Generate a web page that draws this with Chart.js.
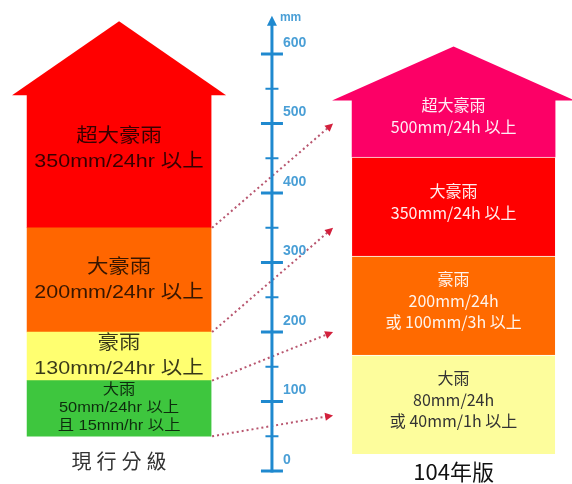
<!DOCTYPE html>
<html>
<head>
<meta charset="utf-8">
<script src="https://cdn.jsdelivr.net/npm/chart.js@4.4.0/dist/chart.umd.min.js"></script>
<style>
  html, body { margin: 0; padding: 0; background: #fff; }
  #wrap { width: 572px; height: 484px; }
</style>
</head>
<body>
<div id="wrap"><canvas id="rainChart"></canvas></div>
<script>
// 現行分級 vs 104年版, thresholds in mm
const columns = ["現行分級", "104年版"];

const oldNames = ["大雨", "豪雨", "大豪雨", "超大豪雨"];
const oldFrom = [50, 130, 200, 350];
const oldTo = [130, 200, 350, 542];          // top class is open, drawn up to the roof
const oldText = [
    ["大雨", "50mm/24hr 以上", "且 15mm/hr 以上"],
    ["豪雨", "130mm/24hr 以上"],
    ["大豪雨", "200mm/24hr 以上"],
    ["超大豪雨", "350mm/24hr 以上"]
];

const newNames = ["大雨", "豪雨", "大豪雨", "超大豪雨"];
const newFrom = [80, 200, 350, 500];         // where the dotted arrows point on the mm axis
const newLevelFrom = [0, 1, 2, 3];           // right column is drawn as equal steps
const newLevelTo = [1, 2, 3, 3.58];
const newText = [
    ["大雨", "80mm/24h", "或 40mm/1h 以上"],
    ["豪雨", "200mm/24h", "或 100mm/3h 以上"],
    ["大豪雨", "350mm/24h 以上"],
    ["超大豪雨", "500mm/24h 以上"]
];

const axisMajor = [0, 100, 200, 300, 400, 500, 600];
const axisMinor = [50, 150, 250, 350, 450, 550];

const colors = {
    old: ["#3ec63e", "#ffff70", "#ff6600", "#ff0000"],
    new: ["#fdfd9c", "#ff6a00", "#ff0000", "#fc0066"],
    axis: "#1f89cf",
    axisText: "#4a9fd6",
    dots: "#b8566f",
    arrow: "#d3203c"
};

const AXIS_X = 0.457;      // between the two columns (x units)
const AXIS_TOP = 655;      // mm, arrow tip of the ruler
const CJK = "'Noto Sans CJK TC', 'Noto Sans', sans-serif";
const LEFT_FONT = "'Liberation Sans', 'Noto Sans CJK TC', sans-serif";

function drawLines(ctx, lines, cx, cy, lh, font, color, sx) {
    ctx.save();
    ctx.font = font;
    ctx.fillStyle = color;
    ctx.textAlign = "center";
    ctx.textBaseline = "middle";
    const y0 = cy - (lines.length - 1) * lh / 2;
    lines.forEach((t, i) => {
        ctx.save();
        ctx.translate(cx, y0 + i * lh);
        ctx.scale(sx, 1);
        ctx.fillText(t, 0, 0);
        ctx.restore();
    });
    ctx.restore();
}

const infographic = {
    id: "infographic",
    afterDatasetsDraw(chart) {
        const ctx = chart.ctx;
        const x = chart.scales.x;
        const y = chart.scales.y;
        const n = oldFrom.length;
        const oldBars = [], newBars = [];
        for (let i = 0; i < n; i++) {
            oldBars.push(chart.getDatasetMeta(i).data[0]);
            newBars.push(chart.getDatasetMeta(n + i).data[0]);
        }

        // roofs on the open top classes
        const roof = (bar, color, over, h) => {
            const l = bar.x - bar.width / 2, r = bar.x + bar.width / 2;
            ctx.save();
            ctx.fillStyle = color;
            ctx.beginPath();
            ctx.moveTo(l - over, bar.y + 1);
            ctx.lineTo(bar.x, bar.y - h);
            ctx.lineTo(r + over, bar.y + 1);
            ctx.closePath();
            ctx.fill();
            ctx.restore();
        };
        roof(oldBars[n - 1], colors.old[n - 1], 15, 73);
        roof(newBars[n - 1], colors.new[n - 1], 20, 53);

        // texts inside the blocks
        oldBars.forEach((bar, i) => {
            const lines = oldText[i];
            const small = lines.length > 2;
            const off = i === n - 1 ? -12 : 0;
            drawLines(ctx, lines, bar.x, (bar.y + bar.base) / 2 + off,
                small ? 18 : 25,
                (small ? "14.5px " : "19px ") + LEFT_FONT,
                "rgba(0,0,0,0.78)", 1.13);
        });
        newBars.forEach((bar, i) => {
            const lines = newText[i];
            const off = i === n - 1 ? -12 : -5;
            drawLines(ctx, lines, bar.x, (bar.y + bar.base) / 2 + off,
                lines.length > 2 ? 21.5 : 22,
                "16px " + CJK,
                i === 0 ? "#333333" : "rgba(255,255,255,0.93)", 1);
        });

        // column titles
        const ob = oldBars[0], nb = newBars[0];
        ctx.save();
        ctx.textAlign = "center";
        ctx.textBaseline = "middle";
        ctx.fillStyle = "#333";
        ctx.font = "20px " + CJK;
        ctx.letterSpacing = "5px";
        ctx.fillText(columns[0], ob.x + 2.5, ob.base + 25);
        ctx.letterSpacing = "0px";
        ctx.fillStyle = "#111";
        ctx.font = "22px " + CJK;
        ctx.fillText(columns[1], nb.x, nb.base + 18);
        ctx.restore();

        // dotted arrows old threshold -> new threshold
        ctx.save();
        for (let i = 0; i < n; i++) {
            const x0 = oldBars[i].x + oldBars[i].width / 2 + 1;
            const y0 = y.getPixelForValue(oldFrom[i]);
            const x1 = newBars[i].x - newBars[i].width / 2 - 19;
            const y1 = y.getPixelForValue(newFrom[i]);
            const a = Math.atan2(y1 - y0, x1 - x0);
            ctx.strokeStyle = colors.dots;
            ctx.lineWidth = 2;
            ctx.setLineDash([2, 3]);
            ctx.beginPath();
            ctx.moveTo(x0, y0);
            ctx.lineTo(x1 - 6 * Math.cos(a), y1 - 6 * Math.sin(a));
            ctx.stroke();
            ctx.setLineDash([]);
            ctx.fillStyle = colors.arrow;
            ctx.beginPath();
            ctx.moveTo(x1, y1);
            ctx.lineTo(x1 - 8 * Math.cos(a) + 4 * Math.sin(a), y1 - 8 * Math.sin(a) - 4 * Math.cos(a));
            ctx.lineTo(x1 - 8 * Math.cos(a) - 4 * Math.sin(a), y1 - 8 * Math.sin(a) + 4 * Math.cos(a));
            ctx.closePath();
            ctx.fill();
        }
        ctx.restore();

        // the mm ruler
        const ax = x.getPixelForValue(AXIS_X);
        const tipY = y.getPixelForValue(AXIS_TOP);
        ctx.save();
        ctx.strokeStyle = colors.axis;
        ctx.fillStyle = colors.axis;
        ctx.lineWidth = 3;
        ctx.beginPath();
        ctx.moveTo(ax, y.getPixelForValue(0) + 1.5);
        ctx.lineTo(ax, tipY + 6);
        ctx.stroke();
        ctx.beginPath();
        ctx.moveTo(ax, tipY);
        ctx.lineTo(ax - 5, tipY + 10);
        ctx.lineTo(ax + 5, tipY + 10);
        ctx.closePath();
        ctx.fill();

        axisMajor.forEach(v => {
            const py = y.getPixelForValue(v);
            ctx.lineWidth = 3;
            ctx.beginPath();
            ctx.moveTo(ax - 11, py);
            ctx.lineTo(ax + 11, py);
            ctx.stroke();
        });
        axisMinor.forEach(v => {
            const py = y.getPixelForValue(v);
            ctx.lineWidth = 2;
            ctx.beginPath();
            ctx.moveTo(ax - 6.5, py);
            ctx.lineTo(ax + 6.5, py);
            ctx.stroke();
        });

        ctx.fillStyle = colors.axisText;
        ctx.textAlign = "left";
        ctx.textBaseline = "middle";
        ctx.font = "bold 14px 'Liberation Sans', sans-serif";
        axisMajor.forEach(v => {
            ctx.fillText(String(v), ax + 11, y.getPixelForValue(v) - 11);
        });
        ctx.font = "bold 12px 'Liberation Sans', sans-serif";
        ctx.fillText("mm", ax + 8, tipY + 2);
        ctx.restore();
    }
};

const datasets = [];
oldFrom.forEach((v, i) => {
    datasets.push({
        label: columns[0] + " " + oldNames[i],
        data: [{ x: 0, y: [v, oldTo[i]] }],
        yAxisID: "y",
        backgroundColor: colors.old[i],
        borderWidth: 0,
        barThickness: 184,
        grouped: false
    });
});
newLevelFrom.forEach((v, i) => {
    const isTop = i === newLevelFrom.length - 1;
    datasets.push({
        label: columns[1] + " " + newNames[i],
        data: [{ x: 1, y: [v, newLevelTo[i]] }],
        yAxisID: "y2",
        backgroundColor: colors.new[i],
        borderColor: "rgba(255,255,255,0.75)",
        borderWidth: isTop ? 0 : { top: 1, bottom: 0, left: 0, right: 0 },
        borderSkipped: false,
        barThickness: 203,
        grouped: false
    });
});

new Chart(document.getElementById("rainChart"), {
    type: "bar",
    data: { datasets },
    options: {
        responsive: true,
        maintainAspectRatio: false,
        animation: false,
        layout: { padding: 0 },
        plugins: {
            legend: { display: false },
            tooltip: { enabled: false }
        },
        scales: {
            x: { type: "linear", min: -0.356, max: 1.354, offset: false, display: false },
            y: { type: "linear", min: -18.7, max: 677.7, display: false },
            y2: { type: "linear", min: -0.303, max: 4.586, display: false }
        }
    },
    plugins: [infographic]
});
</script>
</body>
</html>
